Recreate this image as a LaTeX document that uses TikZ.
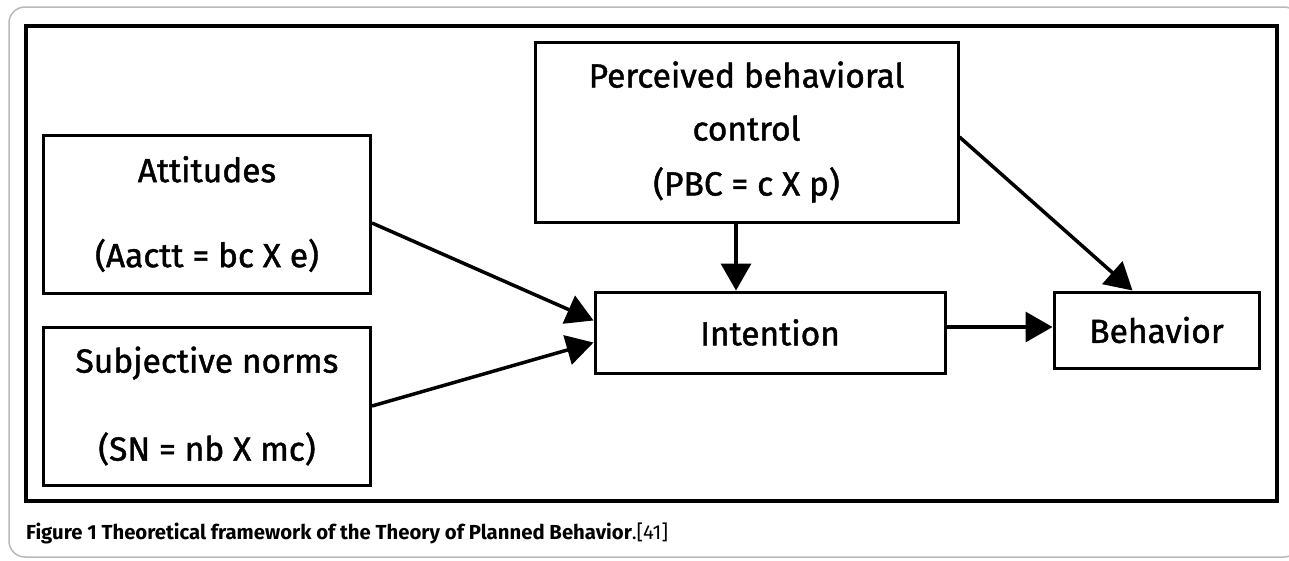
\documentclass[tikz,border=0pt]{standalone}
\usepackage{fontspec}
\setmainfont{Fira Sans}
\newfontfamily\tpbfont{Fira Sans}[FakeBold=1.3]
\usetikzlibrary{arrows.meta}

\tikzset{
  tpbbox/.style={draw=black, line width=3pt, inner sep=0pt, align=center,
    font=\tpbfont\fontsize{33.5}{40}\selectfont},
  tpbarrow/.style={-{Triangle[length=27pt,width=30pt]}, line width=3.5pt},
}

\begin{document}
\begin{tikzpicture}[x=1pt,y=-1pt]
  \clip (0,0) rectangle (1289,560);
  \fill[white] (0,0) rectangle (1289,560);

  % figure frame
  \draw[gray!55, line width=1.5pt, rounded corners=16pt] (9,7) rectangle (1300,557);
  \draw[line width=4pt] (26,26) rectangle (1277,501);

  % the boxes
  \node[tpbbox, minimum width=327pt, minimum height=158pt] (att) at (207,214)
    {Attitudes\\[45pt](Aactt = bc X e)};
  \node[tpbbox, minimum width=327pt, minimum height=158pt] (sn) at (207,406)
    {Subjective norms\\[48pt](SN = nb X mc)};
  \node[tpbbox, minimum width=423pt, minimum height=180pt] (pbc) at (746.5,132)
    {Perceived behavioral\\[13pt]control\\[15pt](PBC = c X p)};
  \node[tpbbox, minimum width=350pt, minimum height=81pt] (int) at (770,332.5) {Intention};
  \node[tpbbox, minimum width=205pt, minimum height=76pt] (beh) at (1156.5,330) {Behavior};

  % arrows
  \draw[tpbarrow] ([yshift=-9pt]att.east) -- ([yshift=12pt]int.west);
  \draw[tpbarrow] (sn.east) -- ([yshift=-10pt]int.west);
  \draw[tpbarrow] ([xshift=-10.5pt]pbc.south) -- ([xshift=-34pt]int.north);
  \draw[tpbarrow] ([yshift=-5pt]pbc.east) -- ([xshift=-24pt]beh.north);
  \draw[tpbarrow] ([yshift=5.5pt]int.east) -- ([yshift=3pt]beh.west);

  % caption
  \node[anchor=west, inner sep=0pt, font=\fontsize{20.3}{24}\selectfont] (cap) at (26,533)
    {\textbf{Figure 1 Theoretical framework of the Theory of Planned Behavior}.[41]};
\end{tikzpicture}
\end{document}
